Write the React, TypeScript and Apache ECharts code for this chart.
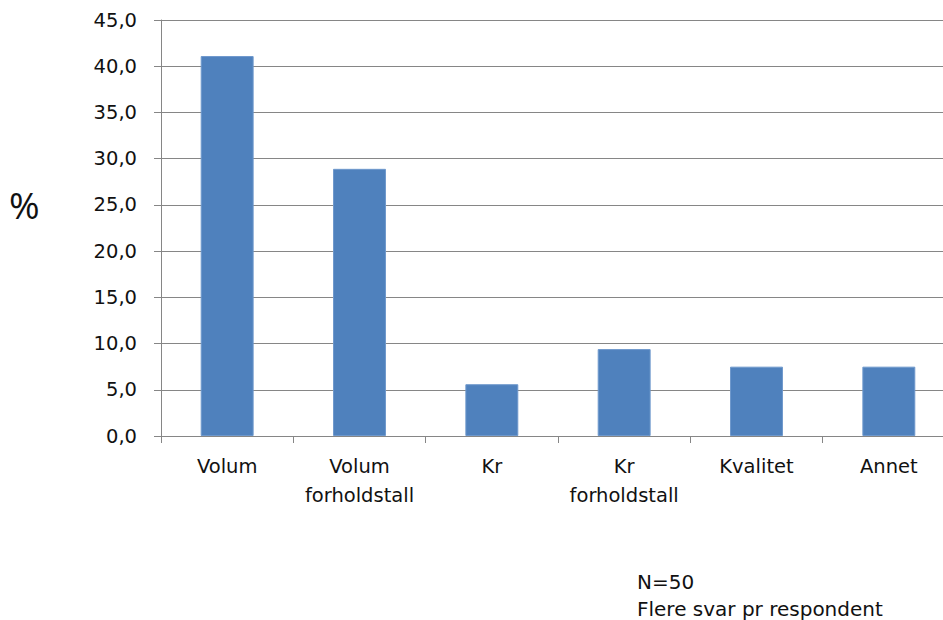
import React, { useEffect, useRef } from "react";
import * as echarts from "echarts";

// Survey answers, share of respondents (%)
const categories = ["Volum", "Volum\nforholdstall", "Kr", "Kr\nforholdstall", "Kvalitet", "Annet"];
const shares = [41.1, 28.9, 5.6, 9.4, 7.5, 7.5];
const yTicks = { min: 0, max: 45, interval: 5 };
const noteLines = ["N=50", "Flere svar pr respondent"];

const FONT = "'DejaVu Sans', 'Open Sans', sans-serif";

export default function App() {
  const ref = useRef<HTMLDivElement>(null);

  useEffect(() => {
    if (!ref.current) return;
    const chart = echarts.init(ref.current, undefined, { renderer: "svg" });
    chart.setOption({
      animation: false,
      backgroundColor: "#ffffff",
      // the plot runs past the right edge of the canvas
      grid: { left: 161, top: 20, width: 794, height: 416, containLabel: false, outerBoundsMode: "none" },
      xAxis: {
        type: "category",
        data: categories,
        axisLine: { lineStyle: { color: "#868686", width: 1 } },
        axisTick: { show: true, length: 7, alignWithLabel: false, lineStyle: { color: "#868686" } },
        axisLabel: {
          color: "#111",
          fontFamily: FONT,
          fontSize: 19.5,
          lineHeight: 29,
          margin: 16,
          interval: 0,
        },
      },
      yAxis: {
        type: "value",
        min: yTicks.min,
        max: yTicks.max,
        interval: yTicks.interval,
        axisLine: { show: true, lineStyle: { color: "#868686", width: 1 } },
        axisTick: { show: true, length: 7, lineStyle: { color: "#868686" } },
        splitLine: { show: true, lineStyle: { color: "#868686", width: 1 } },
        axisLabel: {
          color: "#111",
          fontFamily: FONT,
          fontSize: 19.5,
          margin: 24,
          formatter: (v: number) => v.toFixed(1).replace(".", ","),
        },
      },
      series: [
        {
          type: "bar",
          data: shares,
          barWidth: "40%",
          itemStyle: { color: "#4f81bd", borderColor: "#6e98cc", borderWidth: 1 },
        },
      ],
      graphic: [
        {
          type: "text",
          left: 9,
          top: 186,
          style: { text: "%", fontFamily: "'Open Sans', sans-serif", fontSize: 37, fill: "#111" },
        },
        {
          type: "text",
          left: 637,
          top: 568,
          style: {
            text: noteLines.join("\n"),
            fontFamily: FONT,
            fontSize: 20,
            lineHeight: 27,
            fill: "#111",
          },
        },
      ],
    });
    return () => chart.dispose();
  }, []);

  return <div ref={ref} style={{ width: 943, height: 620, position: "absolute", left: 0, top: 0 }} />;
}
